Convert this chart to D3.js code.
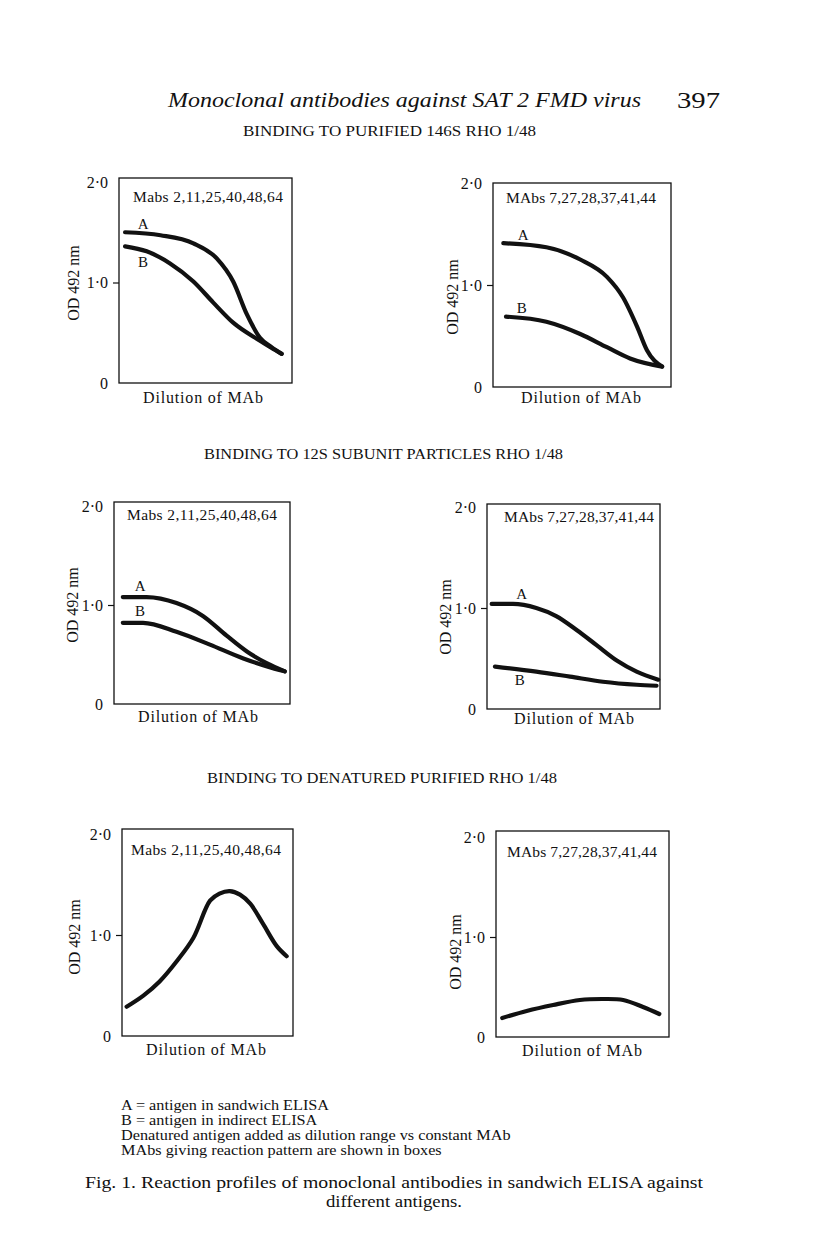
<!DOCTYPE html>
<html><head><meta charset="utf-8">
<script src="https://cdn.jsdelivr.net/npm/d3@7"></script>
<style>
body{margin:0;background:#fff}
svg{display:block}
text{font-family:"Liberation Serif","Times New Roman",serif;fill:#111}
</style>
</head><body>
<svg id="c" width="816" height="1251"></svg>
<script>
// ---------- data (dilution on an arbitrary 0–100 scale, OD 492 nm) ----------
const dil_P1_A = [3.5, 24, 43, 56.5, 66, 74, 81.5, 88, 94];
const od_P1_A  = [1.50, 1.47, 1.39, 1.24, 1.01, 0.68, 0.45, 0.36, 0.29];
const dil_P1_B = [3.5, 16, 29.5, 43, 54.5, 66, 81.5, 88, 94];
const od_P1_B  = [1.36, 1.31, 1.19, 1.01, 0.80, 0.60, 0.42, 0.35, 0.29];

const dil_P2_A = [5.8, 30, 49, 64, 73, 81, 86.5, 95];
const od_P2_A  = [1.41, 1.37, 1.25, 1.08, 0.88, 0.59, 0.36, 0.20];
const dil_P2_B = [7.3, 30, 49, 64, 77, 95];
const od_P2_B  = [0.69, 0.64, 0.52, 0.39, 0.28, 0.20];

const dil_P3_A = [5, 18.5, 35.5, 50.5, 64, 75.5, 87, 97];
const od_P3_A  = [1.08, 1.08, 1.02, 0.89, 0.69, 0.53, 0.41, 0.33];
const dil_P3_B = [5, 16.5, 35.5, 54.5, 73.5, 87, 97];
const od_P3_B  = [0.82, 0.82, 0.73, 0.60, 0.46, 0.38, 0.33];

const dil_P4_A = [2.7, 15, 28.5, 40, 52, 63.5, 75, 86.5, 99];
const od_P4_A  = [1.04, 1.04, 1.00, 0.92, 0.78, 0.63, 0.48, 0.37, 0.29];
const dil_P4_B = [4.6, 28.5, 48, 67, 86.5, 98];
const od_P4_B  = [0.42, 0.37, 0.32, 0.27, 0.24, 0.23];

const dil_P5 = [2.7, 12.5, 22, 32, 41.7, 51.5, 57, 63, 69, 75, 82.5, 90.5, 96.3];
const od_P5  = [0.29, 0.40, 0.54, 0.74, 0.97, 1.34, 1.41, 1.435, 1.40, 1.31, 1.11, 0.89, 0.79];

const dil_P6 = [3.6, 17.7, 33, 48.5, 62, 73.5, 85, 94.4];
const od_P6  = [0.19, 0.26, 0.32, 0.37, 0.38, 0.37, 0.30, 0.23];

const yTickValues = [0, 1, 2];
const yTickLabels = ["0", "1·0", "2·0"];
const mabsGroup1 = "Mabs 2,11,25,40,48,64";
const mabsGroup2 = "MAbs 7,27,28,37,41,44";
const yAxisTitle = "OD 492 nm";
const xAxisTitle = "Dilution of MAb";
const pageTitle = "Monoclonal antibodies against SAT 2 FMD virus";
const pageNumber = "397";
const sectionTitles = ["BINDING TO PURIFIED 146S RHO 1/48",
  "BINDING TO 12S SUBUNIT PARTICLES RHO 1/48",
  "BINDING TO DENATURED PURIFIED RHO 1/48"];
const footnotes = ["A = antigen in sandwich ELISA",
  "B = antigen in indirect ELISA",
  "Denatured antigen added as dilution range vs constant MAb",
  "MAbs giving reaction pattern are shown in boxes"];
const captionLines = ["Fig. 1. Reaction profiles of monoclonal antibodies in sandwich ELISA against",
  "different antigens."];

// ---------- layout ----------
const svg = d3.select("#c");
svg.append("rect").attr("width",816).attr("height",1251).attr("fill","#fff");

const panels = [
  {box:[119,178,292,383], y2:182, mabs:mabsGroup1, mabsC:[208,202], yl:[73,283], xl:[203,403], curve:"m",
   series:[{x:dil_P1_A,y:od_P1_A,label:"A",lx:13.9,ly:1.59},{x:dil_P1_B,y:od_P1_B,label:"B",lx:13.9,ly:1.21}]},
  {box:[493,183,671,387], y2:183, mabs:mabsGroup2, mabsC:[581,203], yl:[452,297], xl:[581,403], curve:"m",
   series:[{x:dil_P2_A,y:od_P2_A,label:"A",lx:16.9,ly:1.49},{x:dil_P2_B,y:od_P2_B,label:"B",lx:16.1,ly:0.78}]},
  {box:[114,502,290,704], y2:506, mabs:mabsGroup1, mabsC:[202,520], yl:[72,605], xl:[198,722], curve:"m",
   series:[{x:dil_P3_A,y:od_P3_A,label:"A",lx:14.8,ly:1.20},{x:dil_P3_B,y:od_P3_B,label:"B",lx:14.8,ly:0.94}]},
  {box:[487,504,660,709], y2:507, mabs:mabsGroup2, mabsC:[579,522], yl:[445,617], xl:[574,724], curve:"m",
   series:[{x:dil_P4_A,y:od_P4_A,label:"A",lx:20,ly:1.14},{x:dil_P4_B,y:od_P4_B,label:"B",lx:19,ly:0.29}]},
  {box:[122,829,293,1036], y2:834, mabs:mabsGroup1, mabsC:[206,855], yl:[74,937], xl:[206,1055], curve:"c",
   series:[{x:dil_P5,y:od_P5}]},
  {box:[496,831,669,1037], y2:837, mabs:mabsGroup2, mabsC:[582,857], yl:[455,952], xl:[582,1056], curve:"c",
   series:[{x:dil_P6,y:od_P6}]}
];

panels.forEach(p => {
  const [l,t,r,b] = p.box;
  const x = d3.scaleLinear().domain([0,100]).range([l,r]);
  const y = d3.scaleLinear().domain([0,2]).range([b,p.y2]);
  const g = svg.append("g");

  g.append("rect").attr("x",l).attr("y",t).attr("width",r-l).attr("height",b-t)
    .attr("fill","none").attr("stroke","#111").attr("stroke-width",1.3);

  const ax = g.append("g").attr("transform",`translate(${l},0)`)
    .call(d3.axisLeft(y).tickValues(yTickValues).tickSize(6).tickPadding(5)
      .tickFormat((d,i)=>yTickLabels[i]));
  ax.select(".domain").remove();
  ax.selectAll(".tick line").attr("stroke","#111").attr("stroke-width",1.2)
    .attr("display",d=>d===1?null:"none");
  ax.selectAll(".tick text").attr("font-family","Liberation Serif").attr("font-size",16)
    .attr("fill","#111").attr("x",-11);

  const line = d3.line().curve(p.curve==="c" ? d3.curveCatmullRom.alpha(0.5) : d3.curveMonotoneX)
    .x(d=>x(d[0])).y(d=>y(d[1]));
  p.series.forEach(s => {
    const pts = s.x.map((v,i)=>[v,s.y[i]]);
    g.append("path").attr("d",line(pts)).attr("fill","none").attr("stroke","#111")
      .attr("stroke-width",4.2).attr("stroke-linecap","round").attr("stroke-linejoin","round");
    if (s.label) {
      g.append("text").attr("x",x(s.lx)).attr("y",y(s.ly)).attr("dy","0.36em")
        .attr("text-anchor","middle").attr("font-size",15).text(s.label);
    }
  });

  g.append("text").attr("x",p.mabsC[0]).attr("y",p.mabsC[1]).attr("text-anchor","middle")
    .attr("font-size",15.5).attr("textLength",150).attr("lengthAdjust","spacing").text(p.mabs);

  g.append("text").attr("transform",`translate(${p.yl[0]},${p.yl[1]}) rotate(-90)`)
    .attr("text-anchor","middle").attr("dy","0.35em").attr("font-size",16).text(yAxisTitle);

  g.append("text").attr("x",p.xl[0]).attr("y",p.xl[1]).attr("text-anchor","middle")
    .attr("font-size",16).attr("textLength",120).attr("lengthAdjust","spacing").text(xAxisTitle);
});

// titles
svg.append("text").attr("x",168).attr("y",107).attr("font-size",22).attr("font-style","italic")
  .attr("textLength",473).attr("lengthAdjust","spacingAndGlyphs").text(pageTitle);
svg.append("text").attr("x",677).attr("y",108).attr("font-size",23)
  .attr("textLength",43).attr("lengthAdjust","spacingAndGlyphs").text(pageNumber);

const secPos = [[243,136,293],[204,459,359],[207,783,350]];
sectionTitles.forEach((s,i)=>{
  svg.append("text").attr("x",secPos[i][0]).attr("y",secPos[i][1]).attr("font-size",15)
    .attr("textLength",secPos[i][2]).attr("lengthAdjust","spacingAndGlyphs").text(s);
});

footnotes.forEach((f,i)=>{
  const t = svg.append("text").attr("x",121).attr("y",1110+i*15).attr("font-size",14.5).text(f);
  const w = t.node().getComputedTextLength();
  t.attr("textLength", w*1.12).attr("lengthAdjust","spacingAndGlyphs");
});

svg.append("text").attr("x",85).attr("y",1188).attr("font-size",17)
  .attr("textLength",618).attr("lengthAdjust","spacingAndGlyphs").text(captionLines[0]);
svg.append("text").attr("x",394).attr("y",1207).attr("font-size",17).attr("text-anchor","middle")
  .attr("textLength",136).attr("lengthAdjust","spacingAndGlyphs").text(captionLines[1]);
</script>
</body></html>
